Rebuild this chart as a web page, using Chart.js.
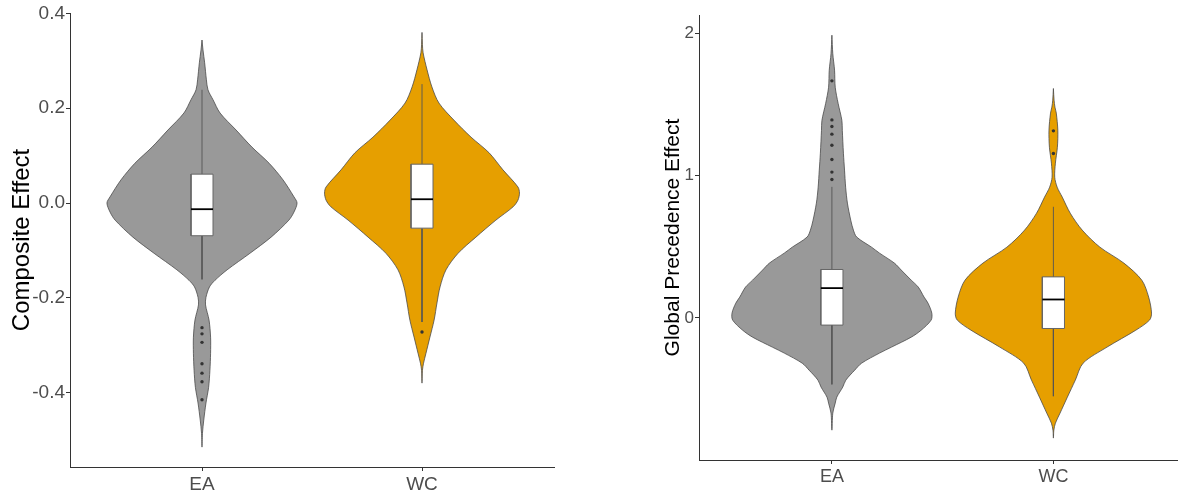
<!DOCTYPE html>
<html>
<head>
<meta charset="utf-8">
<script src="https://cdn.jsdelivr.net/npm/chart.js@4.4.0/dist/chart.umd.min.js"></script>
<style>
  html, body { margin: 0; padding: 0; background: #fff; }
  #wrap { position: relative; width: 1181px; height: 495px; overflow: hidden; }
  canvas { position: absolute; top: 0; }
  #left { left: 0; }
  #right { left: 657px; }
</style>
</head>
<body>
<div id="wrap">
  <canvas id="left" width="580" height="495"></canvas>
  <canvas id="right" width="524" height="495"></canvas>
</div>
<script>
// categories and colours
const categories = ['EA', 'WC'];
const fillColors = ['#999999', '#E69F00'];

// Composite Effect: violin outlines (value, half width in category units), top to bottom
const compositeEAy = [0.344, 0.323, 0.296, 0.260, 0.239, 0.218, 0.190, 0.154, 0.118, 0.084, 0.049, 0.013, 0.000, -0.019, -0.036, -0.072, -0.106, -0.141, -0.163, -0.177, -0.199, -0.215, -0.247, -0.283, -0.317, -0.353, -0.389, -0.422, -0.458, -0.486, -0.515];
const compositeEAw = [0, 0.0045, 0.012, 0.020, 0.027, 0.050, 0.082, 0.155, 0.227, 0.305, 0.368, 0.418, 0.432, 0.418, 0.395, 0.314, 0.218, 0.114, 0.059, 0.034, 0.018, 0.016, 0.032, 0.039, 0.039, 0.036, 0.030, 0.018, 0.008, 0.002, 0];
const compositeWCy = [0.360, 0.334, 0.317, 0.281, 0.245, 0.211, 0.175, 0.139, 0.106, 0.070, 0.034, 0.021, 0.006, -0.008, -0.036, -0.072, -0.106, -0.141, -0.177, -0.211, -0.247, -0.283, -0.317, -0.338, -0.353, -0.380];
const compositeWCw = [0, 0.002, 0.005, 0.023, 0.045, 0.077, 0.145, 0.223, 0.305, 0.368, 0.436, 0.443, 0.436, 0.414, 0.336, 0.245, 0.164, 0.109, 0.082, 0.068, 0.055, 0.036, 0.018, 0.007, 0.002, 0];

// Composite Effect: box plot stats [EA, WC]
const compositeQ1 = [-0.069, -0.053];
const compositeMedian = [-0.013, 0.008];
const compositeQ3 = [0.061, 0.082];
const compositeLow = [-0.161, -0.251];
const compositeHigh = [0.239, 0.251];
const compositeOutEA = [-0.263, -0.276, -0.294, -0.339, -0.359, -0.377, -0.415];
const compositeOutWC = [-0.272];
const compositeTicks = [-0.4, -0.2, 0, 0.2, 0.4];
const compositeTickLabels = ['-0.4', '-0.2', '0.0', '0.2', '0.4'];

// Global Precedence Effect: violin outlines
const globalEAy = [1.988, 1.858, 1.742, 1.622, 1.509, 1.389, 1.319, 1.158, 1.039, 0.919, 0.807, 0.687, 0.617, 0.568, 0.497, 0.455, 0.385, 0.336, 0.265, 0.216, 0.146, 0.103, 0.033, -0.016, -0.087, -0.136, -0.206, -0.248, -0.319, -0.368, -0.438, -0.487, -0.558, -0.600, -0.670, -0.790];
const globalEAw = [0, 0.004, 0.012, 0.015, 0.028, 0.045, 0.047, 0.052, 0.057, 0.062, 0.070, 0.085, 0.097, 0.112, 0.179, 0.215, 0.282, 0.313, 0.358, 0.390, 0.416, 0.434, 0.451, 0.448, 0.403, 0.358, 0.269, 0.215, 0.134, 0.103, 0.063, 0.049, 0.022, 0.015, 0.004, 0];
const globalWCy = [1.613, 1.531, 1.482, 1.440, 1.320, 1.200, 1.088, 0.989, 0.919, 0.849, 0.736, 0.617, 0.497, 0.385, 0.265, 0.146, 0.033, -0.016, -0.087, -0.206, -0.319, -0.438, -0.558, -0.670, -0.741, -0.790, -0.846];
const globalWCw = [0, 0.003, 0.007, 0.013, 0.020, 0.018, 0.009, 0.006, 0.017, 0.040, 0.076, 0.130, 0.210, 0.318, 0.399, 0.430, 0.443, 0.434, 0.372, 0.242, 0.134, 0.099, 0.063, 0.030, 0.009, 0.002, 0];

// Global Precedence Effect: box plot stats [EA, WC]
const globalQ1 = [-0.051, -0.075];
const globalMedian = [0.209, 0.129];
const globalQ3 = [0.340, 0.288];
const globalLow = [-0.468, -0.551];
const globalHigh = [0.921, 0.781];
const globalOutEA = [1.667, 1.392, 1.346, 1.292, 1.214, 1.114, 1.025, 0.973];
const globalOutWC = [1.315, 1.156];
const globalTicks = [0, 1, 2];
const globalTickLabels = ['0', '1', '2'];

const boxHalf = 0.05;

Chart.defaults.font.family = '"Liberation Sans", Arial, sans-serif';

function violinPoints(center, ys, ws) {
    const right = ys.map((y, i) => ({ x: center + ws[i], y: y }));
    const left = ys.map((y, i) => ({ x: center - ws[i], y: y })).reverse().slice(1);
    return right.concat(left);
}

function segment(x1, y1, x2, y2, color, width, order) {
    return {
        data: [{ x: x1, y: y1 }, { x: x2, y: y2 }],
        showLine: true, fill: false,
        borderColor: color, borderWidth: width,
        pointRadius: 0, order: order
    };
}

function buildDatasets(ys, ws, q1, med, q3, lo, hi, outliers) {
    const sets = [];
    categories.forEach((cat, i) => {
        const c = i + 1;
        const h = boxHalf;
        // violin
        sets.push({
            data: violinPoints(c, ys[i], ws[i]),
            showLine: true, fill: 'shape', tension: 0.3,
            backgroundColor: fillColors[i], borderColor: '#4a4a4a', borderWidth: 0.8,
            pointRadius: 0, order: 5
        });
        // whiskers
        sets.push(segment(c, q3[i], c, hi[i], '#555555', 0.9, 4));
        sets.push(segment(c, q1[i], c, lo[i], '#555555', 0.9, 4));
        // box
        sets.push({
            data: [
                { x: c - h, y: q1[i] }, { x: c + h, y: q1[i] },
                { x: c + h, y: q3[i] }, { x: c - h, y: q3[i] }, { x: c - h, y: q1[i] }
            ],
            showLine: true, fill: 'shape',
            backgroundColor: '#ffffff', borderColor: '#666666', borderWidth: 1,
            pointRadius: 0, order: 3
        });
        // median
        sets.push(segment(c - h, med[i], c + h, med[i], '#000000', 1.8, 2));
        // outliers
        sets.push({
            data: outliers[i].map(y => ({ x: c, y: y })),
            showLine: false, pointRadius: 1.7,
            pointBackgroundColor: '#333333', pointBorderWidth: 0, order: 1
        });
    });
    return sets;
}

function makeOptions(o) {
    const axisGrid = { drawOnChartArea: false, drawTicks: true, tickLength: 4, color: '#333333' };
    const axisBorder = { display: true, color: '#333333', width: 1 };
    return {
        responsive: false,
        animation: false,
        events: [],
        layout: { padding: { top: o.top, right: o.right, left: 0, bottom: 0 } },
        plugins: { legend: { display: false }, tooltip: { enabled: false } },
        scales: {
            x: {
                type: 'linear', min: 0.4, max: o.xMax,
                afterBuildTicks: s => { s.ticks = [{ value: 1 }, { value: 2 }]; },
                afterFit: s => { s.height = o.xHeight; },
                ticks: {
                    callback: v => categories[Math.round(v) - 1],
                    color: '#4d4d4d', font: { size: o.xFont }, padding: 2,
                    maxRotation: 0, autoSkip: false
                },
                grid: axisGrid,
                border: axisBorder
            },
            y: {
                type: 'linear', min: o.yMin, max: o.yMax,
                afterBuildTicks: s => { s.ticks = o.ticks.map(v => ({ value: v })); },
                afterFit: s => { s.width = o.yWidth; },
                ticks: {
                    callback: (v, i) => o.labels[i],
                    color: '#4d4d4d', font: { size: o.yFont }, padding: 1, autoSkip: false
                },
                grid: axisGrid,
                border: axisBorder,
                title: {
                    display: true, text: o.title, color: '#000000',
                    font: { size: o.titleFont }, padding: { top: o.titlePad, bottom: 0 }
                }
            }
        }
    };
}

new Chart(document.getElementById('left'), {
    type: 'scatter',
    data: {
        datasets: buildDatasets(
            [compositeEAy, compositeWCy], [compositeEAw, compositeWCw],
            compositeQ1, compositeMedian, compositeQ3, compositeLow, compositeHigh,
            [compositeOutEA, compositeOutWC])
    },
    options: makeOptions({
        top: 13, right: 26, xMax: 2.6, xHeight: 28, yWidth: 70, titlePad: 8,
        xFont: 19, yFont: 19, titleFont: 24,
        yMin: -0.557, yMax: 0.401, ticks: compositeTicks, labels: compositeTickLabels,
        title: 'Composite Effect'
    })
});

new Chart(document.getElementById('right'), {
    type: 'scatter',
    data: {
        datasets: buildDatasets(
            [globalEAy, globalWCy], [globalEAw, globalWCw],
            globalQ1, globalMedian, globalQ3, globalLow, globalHigh,
            [globalOutEA, globalOutWC])
    },
    options: makeOptions({
        top: 15, right: 0, xMax: 2.558, xHeight: 35, yWidth: 42, titlePad: 4,
        xFont: 18, yFont: 17, titleFont: 21,
        yMin: -1.0, yMax: 2.13, ticks: globalTicks, labels: globalTickLabels,
        title: 'Global Precedence Effect'
    })
});
</script>
</body>
</html>
